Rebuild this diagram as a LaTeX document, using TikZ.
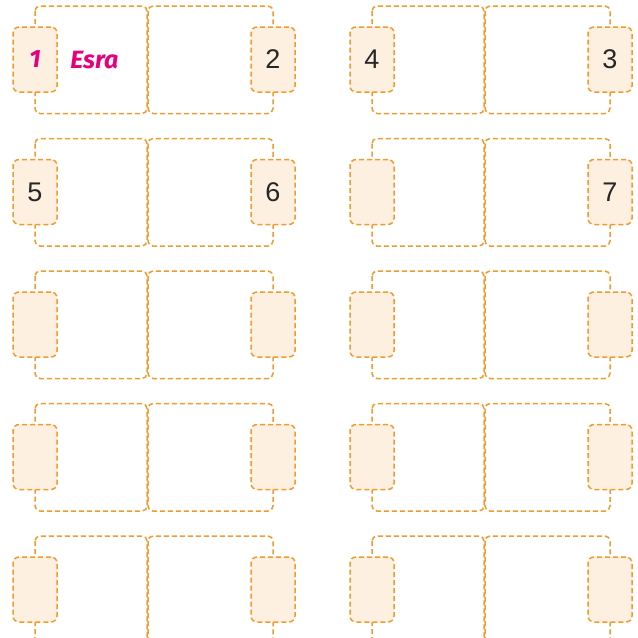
\documentclass[tikz,border=0pt]{standalone}
\usepackage{fontspec}
\setmainfont{Liberation Sans}
\newfontfamily\nomfont{Fira Sans}
\definecolor{orangetrait}{HTML}{F29A2E}
\definecolor{fondonglet}{HTML}{FDF0E0}
\definecolor{magenta}{HTML}{E6007E}

\begin{document}
\begin{tikzpicture}[x=0.5pt,y=-0.5pt,
		cadre/.style={draw=orangetrait,line width=0.75pt,dash pattern=on 2.5pt off 1.5pt,rounded corners=2.5pt},
		onglet/.style={cadre,fill=fondonglet,minimum width=22pt,minimum height=32.5pt,inner sep=0pt,rounded corners=3pt},
		chiffre/.style={font=\fontsize{13.5}{15}\selectfont,text=black!85},
		nom/.style={font=\nomfont\bfseries\itshape\fontsize{12.5}{14}\selectfont,text=magenta}]
		\useasboundingbox (0,0) rectangle (638,638);
		\clip (0,0) rectangle (638,638);
		% cinq rangées de deux cartes
		\foreach \r in {0,...,4}{%
			\foreach \c in {0,1}{%
				\pgfmathsetmacro{\dx}{\c*337}
				\pgfmathsetmacro{\dy}{\r*132.5}
				% les deux moitiés de la carte
				\draw[cadre] (35+\dx,6+\dy) rectangle (147+\dx,113.5+\dy);
				\draw[cadre] (148+\dx,6+\dy) rectangle (273+\dx,113.5+\dy);
				% onglets gauche et droit
				\node[onglet] (g-\r-\c) at (35+\dx,59.5+\dy) {};
				\node[onglet] (d-\r-\c) at (273+\dx,59.5+\dy) {};
				}
			}
		% numéros
		\node[nom] (n1) at (g-0-0) {1};
		\node[nom,anchor=base west,inner sep=0pt] (esra) at (70,68.5) {Esra};
		\node[chiffre] (n2) at (d-0-0) {2};
		\node[chiffre] (n3) at (d-0-1) {3};
		\node[chiffre] (n4) at (g-0-1) {4};
		\node[chiffre] (n5) at (g-1-0) {5};
		\node[chiffre] (n6) at (d-1-0) {6};
		\node[chiffre] (n7) at (d-1-1) {7};
	\end{tikzpicture}
\end{document}
